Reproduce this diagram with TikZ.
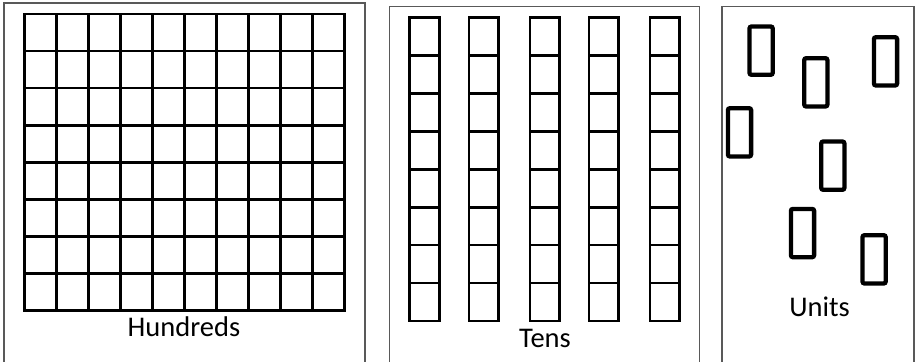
\documentclass[tikz,border=0pt]{standalone}
\usepackage{fontspec}
\setmainfont{Carlito}
\definecolor{panelgray}{RGB}{89,89,89}
\tikzset{
  panel/.style={draw=panelgray, line width=1.6pt},
  gridline/.style={draw=black, line width=2.6pt, line cap=rect},
  unitbox/.style={draw=black, line width=4.3pt, rounded corners=2pt},
  lbl/.style={anchor=base, inner sep=0pt, font=\fontsize{28.5}{32}\selectfont}
}
\begin{document}
\begin{tikzpicture}[x=1pt, y=-1pt]
\useasboundingbox (0,0) rectangle (917,361);
\clip (0,0) rectangle (917,361);
% panels
\draw[panel] (4,365) -- (4,3) -- (365,3) -- (365,365);
\draw[panel] (389.3,365) -- (389.3,6.7) -- (699.3,6.7) -- (699.3,365);
\draw[panel] (722,365) -- (722,6.7) -- (914,6.7) -- (914,365);
% hundreds grid
\foreach \i in {0,...,10} {
  \draw[gridline] ({24.7+\i*31.96},14) -- ({24.7+\i*31.96},310.7);
}
\foreach \j in {0,...,8} {
  \draw[gridline] (24.7,{14+\j*37.09}) -- (344.3,{14+\j*37.09});
}
% tens columns
\foreach \cx in {424.5,483.7,544.8,603.7,664.7} {
  \draw[gridline] ({\cx-14.9},17.7) rectangle ({\cx+14.9},321);
  \foreach \j in {1,...,7} {
    \draw[gridline] ({\cx-14.9},{17.7+\j*37.91}) -- ({\cx+14.9},{17.7+\j*37.91});
  }
}
% units
\foreach \ux/\uy in {749.5/26.5, 804.2/58.2, 873.9/37.2, 727.9/108.2, 821.2/141.5, 790.9/208.9, 862.5/235.2} {
  \draw[unitbox] (\ux,\uy) rectangle ({\ux+23.2},{\uy+48.3});
}
% labels
\node[lbl] (hundreds) at (184,336.7) {Hundreds};
\node[lbl] (tens) at (545,347.3) {Tens};
\node[lbl] (units) at (819.5,316.7) {Units};
\end{tikzpicture}
\end{document}
